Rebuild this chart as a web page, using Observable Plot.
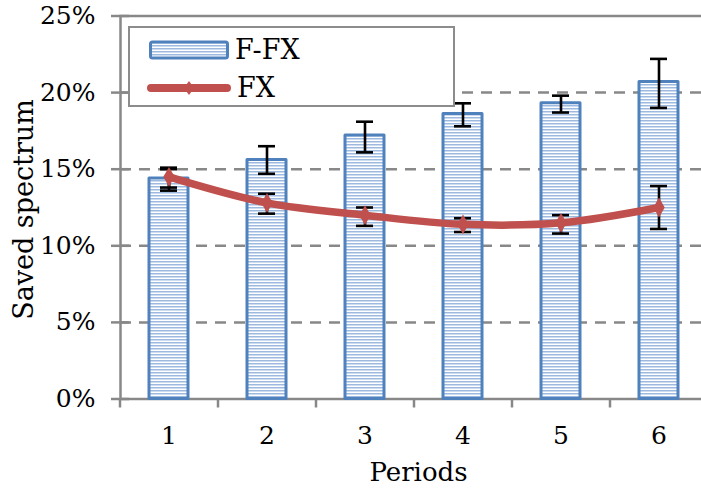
<!DOCTYPE html>
<html>
<head>
<meta charset="utf-8">
<script src="https://cdn.jsdelivr.net/npm/d3@7"></script>
<script src="https://cdn.jsdelivr.net/npm/@observablehq/plot@0.6"></script>
<style>
  html, body { margin: 0; padding: 0; background: #fff; }
  #wrap { position: relative; width: 701px; height: 491px; font-family: "DejaVu Serif", serif; }
  #legend { position: absolute; left: 128px; top: 26px; width: 323px; height: 77px; border: 2px solid #8c8c8c; background: #fff; }
  .item { position: absolute; left: 0; display: flex; align-items: center; font-size: 27px; color: #000; }
  .item svg { display: block; }
  .item span { margin-left: 5px; }
</style>
</head>
<body>
<svg width="0" height="0" style="position:absolute">
  <defs>
    <pattern id="hstripe" patternUnits="userSpaceOnUse" width="6" height="3">
      <rect width="6" height="3" fill="#ffffff"></rect>
      <rect y="0" width="6" height="1.5" fill="#9db9e0"></rect>
    </pattern>
  </defs>
</svg>
<div id="wrap">
  <div id="chart"></div>
  <div id="legend">
    <div class="item" style="top:6px;left:18px">
      <svg width="82" height="22"><rect x="2.5" y="3" width="77" height="16" rx="2" fill="url(#hstripe)" stroke="#4f81bd" stroke-width="3"></rect></svg>
      <span id="lg1"></span>
    </div>
    <div class="item" style="top:44px;left:16px">
      <svg width="86" height="22"><line x1="5" y1="11" x2="81" y2="11" stroke="#c0504d" stroke-width="8" stroke-linecap="round"></line><path d="M43,4 L48,11 L43,18 L38,11 Z" fill="#c0504d"></path></svg>
      <span id="lg2"></span>
    </div>
  </div>
</div>
<script>
const periods = [1, 2, 3, 4, 5, 6];
const seriesNames = ["F-FX", "FX"];
const ffx   = [14.4, 15.6, 17.2, 18.6, 19.3, 20.7];
const ffxLo = [13.6, 14.7, 16.1, 17.8, 18.7, 19.0];
const ffxHi = [15.1, 16.5, 18.1, 19.3, 19.8, 22.2];
const fx    = [14.5, 12.8, 12.0, 11.4, 11.5, 12.5];
const fxLo  = [13.8, 12.1, 11.3, 10.9, 10.8, 11.1];
const fxHi  = [15.0, 13.4, 12.5, 11.8, 12.0, 13.9];
const yTicks = [0, 5, 10, 15, 20, 25];
const gridTicks = [5, 10, 15, 20];
const xTitle = "Periods";
const yTitle = "Saved spectrum";

const rows = periods.map((p, i) => ({
  period: p, ffx: ffx[i], ffxLo: ffxLo[i], ffxHi: ffxHi[i],
  fx: fx[i], fxLo: fxLo[i], fxHi: fxHi[i]
}));

document.getElementById("lg1").textContent = seriesNames[0];
document.getElementById("lg2").textContent = seriesNames[1];

const gray = "#888888";
const chart = Plot.plot({
  width: 701,
  height: 491,
  marginLeft: 120,
  marginRight: -7,
  marginTop: 15.5,
  marginBottom: 92.5,
  style: { fontFamily: "DejaVu Serif", fontSize: "25px", color: "#000", background: "transparent" },
  x: { type: "band", domain: periods, paddingInner: 0.6, paddingOuter: 0.3, align: 0.5 },
  y: { domain: [0, 25] },
  marks: [
    Plot.ruleY(gridTicks, { stroke: gray, strokeWidth: 2.5, strokeDasharray: "11,8" }),
    Plot.frame({ stroke: gray, strokeWidth: 2.5 }),
    Plot.axisY(yTicks, { tickSize: 18, dx: 9, tickFormat: () => "", stroke: gray, strokeWidth: 2.5 }),
    Plot.axisY(yTicks, { tickSize: 0, tickPadding: 25, tickFormat: d => d + "%", fill: "#000", label: null }),
    Plot.axisX({ tickSize: 9, dx: -49, tickFormat: () => "", stroke: gray, strokeWidth: 2.5, label: null }),
    Plot.axisX({ tickSize: 0, tickPadding: 27, fill: "#000", label: null }),
    Plot.barY(rows, { x: "period", y: "ffx", fill: "url(#hstripe)", stroke: "#4f81bd", strokeWidth: 3, strokeLinejoin: "round" }),
    Plot.ruleX(rows, { x: "period", y1: "ffxLo", y2: "ffxHi", stroke: "#000", strokeWidth: 2.6 }),
    Plot.tickY(rows, { x: "period", y: "ffxHi", stroke: "#000", strokeWidth: 2.6, insetLeft: 11, insetRight: 11 }),
    Plot.tickY(rows, { x: "period", y: "ffxLo", stroke: "#000", strokeWidth: 2.6, insetLeft: 11, insetRight: 11 }),
    Plot.ruleX(rows, { x: "period", y1: "fxLo", y2: "fxHi", stroke: "#000", strokeWidth: 2.6 }),
    Plot.tickY(rows, { x: "period", y: "fxHi", stroke: "#000", strokeWidth: 2.6, insetLeft: 11, insetRight: 11 }),
    Plot.tickY(rows, { x: "period", y: "fxLo", stroke: "#000", strokeWidth: 2.6, insetLeft: 11, insetRight: 11 }),
    Plot.line(rows, { x: "period", y: "fx", stroke: "#c0504d", strokeWidth: 7.5, curve: "catmull-rom", strokeLinecap: "round" }),
    Plot.dot(rows, { x: "period", y: "fx", symbol: "diamond", r: 6, fill: "#c0504d", stroke: "none" }),
    Plot.text([xTitle], { frameAnchor: "bottom", dy: 82, dx: 4, fontSize: 26, fill: "#000" }),
    Plot.text([yTitle], { frameAnchor: "left", textAnchor: "middle", rotate: -90, dx: -96, dy: 2, fontSize: 27, fill: "#000" })
  ]
});
document.getElementById("chart").appendChild(chart);
</script>
</body>
</html>
